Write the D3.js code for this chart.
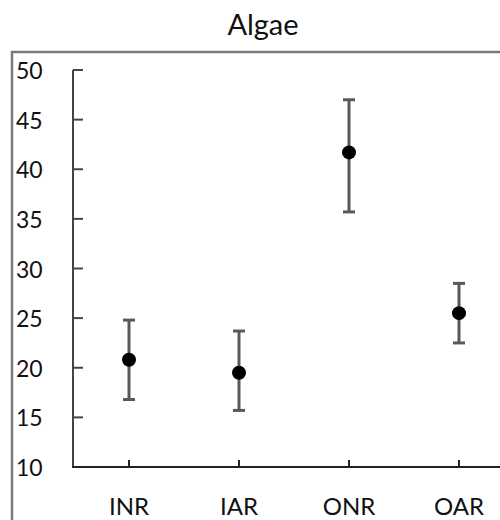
<!DOCTYPE html>
<html lang="en">
<head>
<meta charset="utf-8">
<title>Algae</title>
<script src="https://cdn.jsdelivr.net/npm/d3@7"></script>
<style>
  body { margin: 0; background: #fff; font-family: Lato, "Open Sans", Arial, sans-serif; }
</style>
</head>
<body>
<script>
// data
var sites = ["INR", "IAR", "ONR", "OAR"];
var means = [20.8, 19.5, 41.7, 25.5];
var upper = [24.8, 23.7, 47.0, 28.5];
var lower = [16.8, 15.7, 35.7, 22.5];
var yTicks = [10, 15, 20, 25, 30, 35, 40, 45, 50];

var w = 500, h = 520;

var svg = d3.select("body").append("svg")
  .attr("width", w)
  .attr("height", h);

// outer frame (runs off the canvas)
svg.append("path")
  .attr("d", "M12,540 L12,52 L520,52")
  .attr("fill", "none")
  .attr("stroke", "#7a7a7a")
  .attr("stroke-width", 2.5);

// title
svg.append("text")
  .attr("x", 263)
  .attr("y", 35)
  .attr("text-anchor", "middle")
  .attr("font-size", "29px")
  .attr("fill", "#111")
  .text("Algae");

var x = d3.scaleBand().domain(sites).range([74, 514]);
var y = d3.scaleLinear().domain([10, 50]).range([467, 70]);

// y axis
var yg = svg.append("g").attr("transform", "translate(73,0)");
yg.append("line")
  .attr("y1", y(10)).attr("y2", y(50))
  .attr("stroke", "#444").attr("stroke-width", 2);
yg.selectAll(".tk").data(yTicks).enter().append("line")
  .attr("x1", 0).attr("x2", 10)
  .attr("y1", function(d) { return y(d); })
  .attr("y2", function(d) { return y(d); })
  .attr("stroke", "#444").attr("stroke-width", 2);
svg.selectAll(".ylab").data(yTicks).enter().append("text")
  .attr("x", 16)
  .attr("y", function(d) { return y(d) + 9; })
  .attr("font-size", "23px")
  .attr("fill", "#111")
  .text(function(d) { return d; });

// x axis
svg.append("line")
  .attr("x1", 72).attr("x2", 514)
  .attr("y1", y(10)).attr("y2", y(10))
  .attr("stroke", "#222").attr("stroke-width", 2);
svg.selectAll(".xtk").data(sites).enter().append("line")
  .attr("x1", function(d) { return x(d) + x.bandwidth() / 2; })
  .attr("x2", function(d) { return x(d) + x.bandwidth() / 2; })
  .attr("y1", y(10)).attr("y2", y(10) - 7)
  .attr("stroke", "#222").attr("stroke-width", 2);
svg.selectAll(".xlab").data(sites).enter().append("text")
  .attr("x", function(d) { return x(d) + x.bandwidth() / 2; })
  .attr("y", 515)
  .attr("text-anchor", "middle")
  .attr("font-size", "24px")
  .attr("fill", "#111")
  .text(function(d) { return d; });

// error bars
var pts = sites.map(function(s, i) {
  return { s: s, m: means[i], hi: upper[i], lo: lower[i] };
});
var cx = function(d) { return x(d.s) + x.bandwidth() / 2; };

var eb = svg.selectAll(".eb").data(pts).enter().append("g");
eb.append("line")
  .attr("x1", cx).attr("x2", cx)
  .attr("y1", function(d) { return y(d.hi); })
  .attr("y2", function(d) { return y(d.lo); })
  .attr("stroke", "#595959").attr("stroke-width", 3);
eb.append("line")
  .attr("x1", function(d) { return cx(d) - 6; })
  .attr("x2", function(d) { return cx(d) + 6; })
  .attr("y1", function(d) { return y(d.hi); })
  .attr("y2", function(d) { return y(d.hi); })
  .attr("stroke", "#595959").attr("stroke-width", 3);
eb.append("line")
  .attr("x1", function(d) { return cx(d) - 6; })
  .attr("x2", function(d) { return cx(d) + 6; })
  .attr("y1", function(d) { return y(d.lo); })
  .attr("y2", function(d) { return y(d.lo); })
  .attr("stroke", "#595959").attr("stroke-width", 3);
eb.append("circle")
  .attr("cx", cx)
  .attr("cy", function(d) { return y(d.m); })
  .attr("r", 7)
  .attr("fill", "#000");
</script>
</body>
</html>
